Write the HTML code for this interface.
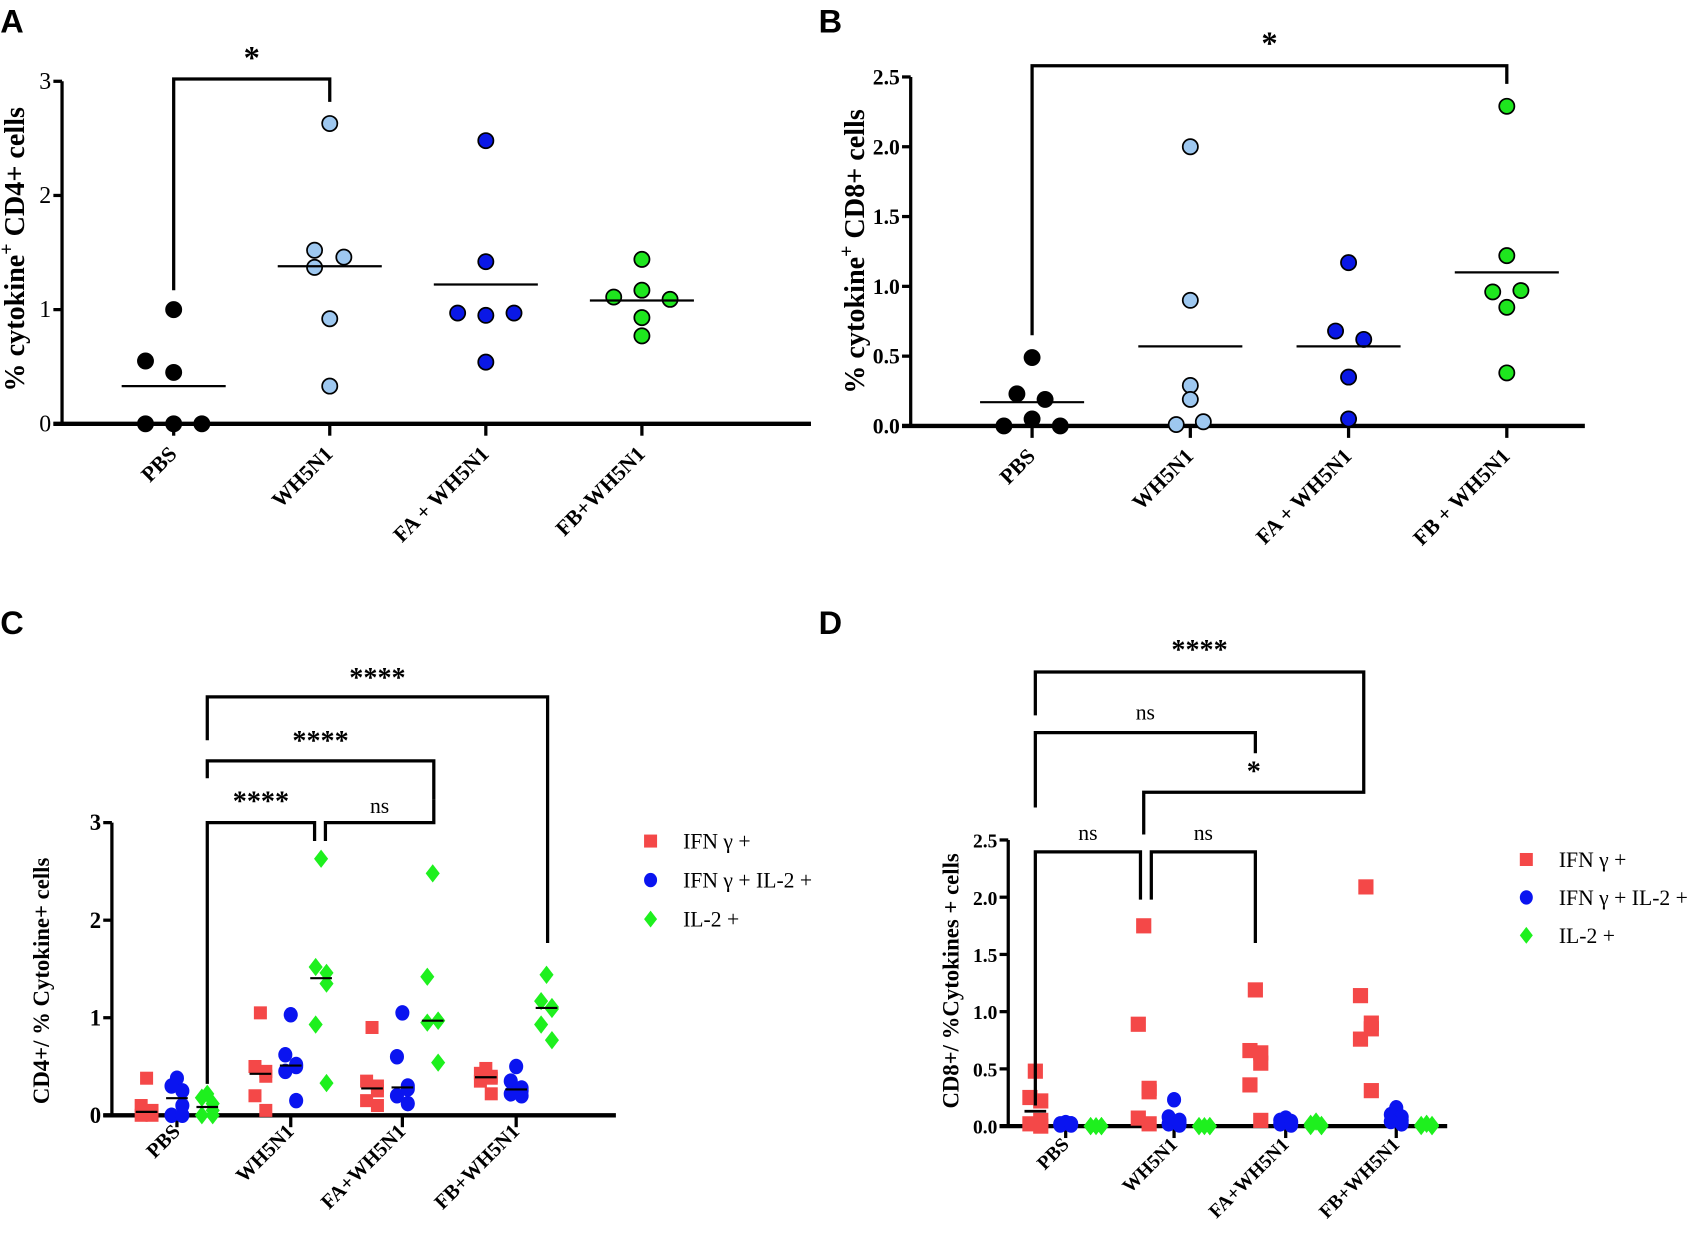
<!DOCTYPE html>
<html><head><meta charset="utf-8">
<style>
html,body{margin:0;padding:0;background:#fff;}
svg{display:block;}
text{font-family:"Liberation Serif",serif;}
.lbl{font-family:"Liberation Sans",sans-serif;font-weight:bold;font-size:30px;}
</style></head>
<body>
<svg id="fig" width="1700" height="1241" viewBox="0 0 1568 1145" xmlns="http://www.w3.org/2000/svg"></svg>
<script>
// ---- Panel A data ----
const catsA = ["PBS","WH5N1","FA + WH5N1","FB+WH5N1"];
const colorsA = ["#000000","#9ec8f0","#0a18e6","#1ee61e"];
const valsA_PBS = [1.0,0.55,0.45,0,0,0];
const valsA_WH = [2.63,1.52,1.46,1.37,0.92,0.33];
const valsA_FA = [2.48,1.42,0.97,0.95,0.97,0.54];
const valsA_FB = [1.44,1.17,1.11,1.09,0.93,0.77];
const meansA = [0.33,1.38,1.22,1.08];
const ticksA = [0,1,2,3];
// ---- Panel B data ----
const catsB = ["PBS","WH5N1","FA + WH5N1","FB + WH5N1"];
const valsB_PBS = [0.49,0.23,0.19,0.05,0,0];
const valsB_WH = [2.0,0.9,0.29,0.19,0.01,0.03];
const valsB_FA = [1.17,0.68,0.62,0.35,0.05];
const valsB_FB = [2.29,1.22,0.96,0.97,0.85,0.38];
const meansB = [0.17,0.57,0.57,1.1];
const ticksB = [0,0.5,1,1.5,2,2.5];
// ---- Panel C data ----
const catsC = ["PBS","WH5N1","FA+WH5N1","FB+WH5N1"];
const seriesNames = ["IFN γ +","IFN γ + IL-2 +","IL-2 +"];
const C_ifn = [[0.38,0.1,0.05,0.02,0,0],[1.05,0.5,0.45,0.4,0.2,0.05],[0.9,0.35,0.3,0.25,0.15,0.1],[0.48,0.43,0.4,0.38,0.35,0.22]];
const C_both = [[0.38,0.3,0.25,0.1,0,0],[1.03,0.62,0.5,0.52,0.45,0.15],[1.05,0.6,0.3,0.27,0.2,0.12],[0.5,0.35,0.28,0.25,0.22,0.2]];
const C_il2 = [[0.22,0.18,0.12,0.05,0,0],[2.63,1.52,1.46,1.35,0.93,0.33],[2.48,1.42,0.97,0.97,0.95,0.54],[1.44,1.17,1.11,1.09,0.93,0.77]];
const ticksC = [0,1,2,3];
// ---- Panel D data ----
const D_ifn = [[0.48,0.25,0.22,0.05,0.02,0],[1.75,0.89,0.33,0.3,0.07,0.02],[1.19,0.66,0.64,0.55,0.36,0.05],[2.09,1.14,0.9,0.85,0.76,0.31]];
const D_both = [[0.03,0.02,0.02,0.01,0.01,0.02],[0.23,0.08,0.05,0.03,0.02,0.01],[0.07,0.05,0.04,0.03,0.02,0.01],[0.16,0.1,0.08,0.05,0.04,0.02]];
const D_il2 = [[0,0,0,0,0,0],[0,0,0,0,0,0],[0.04,0.02,0.01,0,0,0],[0.02,0.01,0.01,0,0,0]];
const ticksD = [0,0.5,1,1.5,2,2.5];

const NS="http://www.w3.org/2000/svg";
const svg=document.getElementById('fig');
function el(tag,attrs,parent){const e=document.createElementNS(NS,tag);for(const k in attrs)e.setAttribute(k,attrs[k]);(parent||svg).appendChild(e);return e;}
function txt(x,y,s,attrs,parent){const t=el('text',Object.assign({x:x,y:y},attrs),parent);t.textContent=s;return t;}

function axes(g,x0,y0,yTop,xEnd,ticks,ymax,fmt,tickX,fs,bold){
  const ys=v=>y0-(v/ymax)*(y0-yTop);
  const ya=el('line',{x1:x0,y1:y0+1.5,x2:x0,y2:yTop,stroke:'#000','stroke-width':3},g);
  
  
  const xa=el('line',{x1:x0-8,y1:y0,x2:xEnd,y2:y0,stroke:'#000','stroke-width':4},g);
  
  
  ticks.forEach(v=>{
    el('line',{x1:x0-8,y1:ys(v),x2:x0,y2:ys(v),stroke:'#000','stroke-width':3},g);
    const t=txt(x0-10,ys(v)+7,fmt(v),{'text-anchor':'end','font-size':fs,'font-weight':bold?'bold':'normal'},g);
    
    
  });
  tickX.forEach(x=>el('line',{x1:x,y1:y0,x2:x,y2:y0+11,stroke:'#000','stroke-width':3},g));
  return ys;
}
function xlabels(g,xs,y,cats,fs){
  cats.forEach((c,i)=>{
    const t=txt(xs[i]+4,y,c,{'text-anchor':'end','font-size':fs,'font-weight':'bold','transform':`rotate(-45 ${xs[i]+4} ${y})`},g);
    
    
  });
}
function ytitle(g,x,y,parts,fs){
  const t=el('text',{x:x,y:y,'text-anchor':'middle','font-size':fs,'font-weight':'bold','transform':`rotate(-90 ${x} ${y})`},g);
  parts.forEach(p=>{const s=el('tspan',p.sup?{'baseline-shift':'super','font-size':fs*0.7}:{},t);s.textContent=p.t;});
  
  
}
function bracket(g,x1,yl,x2,yr,ytop,label,ly,fs){
  el('polyline',{points:`${x1},${yl} ${x1},${ytop} ${x2},${ytop} ${x2},${yr}`,fill:'none',stroke:'#000','stroke-width':3},g);
  const ns=label==='ns';
  const t=txt((x1+x2)/2,ly,label,{'text-anchor':'middle','font-size':fs,'font-weight':ns?'normal':'bold','font-family':ns?'Liberation Serif, serif':'Liberation Sans, sans-serif'},g);
  
  
}
function dotCol(g,cx,vals,ys,fill,offsets){
  vals.forEach((v,i)=>{
    const c=el('circle',{cx:cx+(offsets[i]||0),cy:ys(v),r:7,fill:fill,stroke:'#000','stroke-width':1.6},g);
    
    
  });
}
function marker(g,type,x,y,color,s){
  let m;
  if(type==='sq') m=el('rect',{x:x-s,y:y-s,width:2*s,height:2*s,fill:color},g);
  else if(type==='ci') m=el('ellipse',{cx:x,cy:y,rx:s,ry:s*1.1,fill:color},g);
  else m=el('polygon',{points:`${x},${y-s*1.3} ${x+s},${y} ${x},${y+s*1.3} ${x-s},${y}`,fill:color},g);
  return m;
}
function groupCol(g,cx,vals,ys,type,color,s){
  vals.forEach((v,i)=>{
    const off=[0,-5,5,5,-5,5][i%6];
    const m=marker(g,type,cx+off,ys(v),color,s);
    
    
  });
}
function median(a){const b=[...a].sort((x,y)=>x-y);const n=b.length;return n%2?b[(n-1)/2]:(b[n/2-1]+b[n/2])/2;}
function legend(g,x,y,gap,fs){
  const types=['sq','ci','di'];const cols=['#f44848','#0a14f0','#1ef01e'];
  seriesNames.forEach((n,i)=>{
    const lg=el('g',{},g);
    
    
    marker(lg,types[i],x,y+i*gap,cols[i],6);
    txt(x+30,y+i*gap+7,n,{'font-size':fs},lg);
  });
}

[['A',0,30],['B',755,30],['C',0,585],['D',755,585]].forEach(([l,x,y])=>{
  const t=txt(x,y,l,{class:'lbl'});
  
  
});

// ---- Panel A ----
{
  const g=el('g',{});
  
  
  const xs=[160,304,448,592];
  const ys=axes(g,57,391,75,748,ticksA,3,String,xs,22,false);
  const sets=[valsA_PBS,valsA_WH,valsA_FA,valsA_FB];
  const offs=[[0,-26,0,-26,0,26],[0,-14,13,-14,0,0],[0,0,-26,0,26,0],[0,0,-26,26,0,0]];
  sets.forEach((s,i)=>dotCol(g,xs[i],s,ys,colorsA[i],offs[i]));
  meansA.forEach((m,i)=>el('line',{x1:xs[i]-48,x2:xs[i]+48,y1:ys(m),y2:ys(m),stroke:'#000','stroke-width':2},g));
  bracket(g,xs[0],ys(1.17),xs[1],ys(2.82),ys(3.02),'*',63,30);
  xlabels(g,xs,420,catsA,20);
  ytitle(g,22,230,[{t:'% cytokine'},{t:'+',sup:true},{t:' CD4+ cells'}],26);
}
// ---- Panel B ----
{
  const g=el('g',{});
  
  
  const xs=[952,1098,1244,1390];
  const ys=axes(g,840,393,71,1462,ticksB,2.5,v=>v.toFixed(1),xs,20,true);
  const sets=[valsB_PBS,valsB_WH,valsB_FA,valsB_FB];
  const offs=[[0,-14,12,0,-26,26],[0,0,0,0,-13,12],[0,-12,14,0,0],[0,0,-13,13,0,0]];
  sets.forEach((s,i)=>dotCol(g,xs[i],s,ys,colorsA[i],offs[i]));
  meansB.forEach((m,i)=>el('line',{x1:xs[i]-48,x2:xs[i]+48,y1:ys(m),y2:ys(m),stroke:'#000','stroke-width':2},g));
  bracket(g,xs[0],ys(0.65),xs[3],ys(2.45),ys(2.58),'*',50,30);
  xlabels(g,xs,422,catsB,20);
  ytitle(g,797,232,[{t:'% cytokine'},{t:'+',sup:true},{t:' CD8+ cells'}],26);
}
// ---- Panel C ----
{
  const g=el('g',{});
  
  
  const centers=[163,268,371,476];
  const ys=axes(g,103,1029,759,568,ticksC,3,String,centers,21,true);
  centers.forEach((c,i)=>{
    groupCol(g,c-28,C_ifn[i],ys,'sq','#f44848',6);
    groupCol(g,c,C_both[i],ys,'ci','#0a14f0',6.5);
    groupCol(g,c+28,C_il2[i],ys,'di','#1ef01e',6.5);
    [[c-28,C_ifn[i]],[c,C_both[i]],[c+28,C_il2[i]]].forEach(([x,v])=>el('line',{x1:x-10,x2:x+10,y1:ys(median(v)),y2:ys(median(v)),stroke:'#000','stroke-width':2},g));
  });
  bracket(g,191,1000,290,776,759,'****',748,26);
  bracket(g,300,776,400,738,759,'ns',750,20);
  bracket(g,191,718,400,738,702,'****',692,26);
  bracket(g,191,683,505,870,643,'****',634,26);
  legend(g,600,776,36,20);
  xlabels(g,centers,1045,catsC,19);
  ytitle(g,45,905,[{t:'CD4+/ % Cytokine+ cells'}],21);
}
// ---- Panel D ----
{
  const g=el('g',{});
  
  
  const centers=[983,1083,1186,1288];
  const ys=axes(g,930,1039,775,1335,ticksD,2.5,v=>v.toFixed(1),centers,18,true);
  centers.forEach((c,i)=>{
    groupCol(g,c-28,D_ifn[i],ys,'sq','#f44848',7);
    groupCol(g,c,D_both[i],ys,'ci','#0a14f0',6.5);
    groupCol(g,c+28,D_il2[i],ys,'di','#1ef01e',6.5);
  });
  el('line',{x1:945,x2:965,y1:ys(0.13),y2:ys(0.13),stroke:'#000','stroke-width':2.5},g);
  bracket(g,955,1020,1052,830,786,'ns',775,20);
  bracket(g,1062,830,1158,870,786,'ns',775,20);
  bracket(g,1055,770,1258,715,731,'*',720,26);
  bracket(g,955,745,1158,695,676,'ns',664,20);
  bracket(g,955,660,1258,715,620,'****',608,26);
  legend(g,1408,793,35,20);
  xlabels(g,centers,1057,catsC,18);
  ytitle(g,884,905,[{t:'CD8+/ %Cytokines + cells'}],21);
}
</script>
</body></html>
